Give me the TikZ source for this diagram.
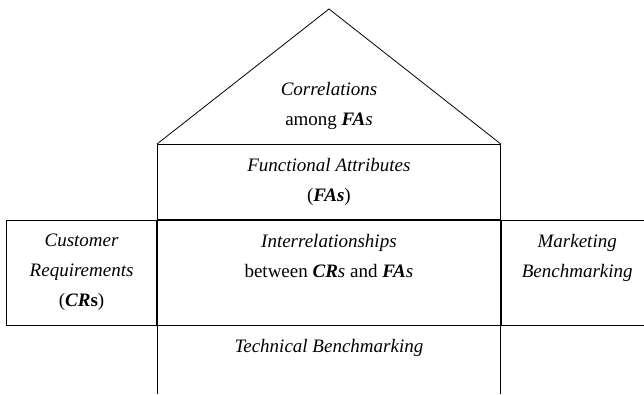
\documentclass[tikz,border=0pt]{standalone}
\usepackage{fontspec}
\setmainfont{Liberation Serif}
\usetikzlibrary{positioning}

\newcommand{\bfit}[1]{\textbf{\textit{#1}}}

\begin{document}
\begin{tikzpicture}[
        x=1pt, y=-1pt,
        box/.style={draw, line width=0.8pt, inner sep=0pt, minimum height=105pt},
        txt/.style={font=\fontsize{19}{30}\selectfont, align=center, inner sep=0pt}
      ]
        \clip (0,0) rectangle (644,394);

        % Functional attributes and the matrix row
        \node[box, minimum width=343pt, minimum height=75pt, anchor=north west] (fa) at (157,144) {};
        \node[box, minimum width=343pt, below=0pt of fa] (inter) {};
        \node[box, minimum width=150pt, left=0pt of inter] (cr) {};
        \node[box, minimum width=152pt, right=0pt of inter] (mb) {};

        % Roof
        \coordinate (apex) at (329,9);
        \draw[line width=0.8pt, line join=miter] (fa.north west) -- (apex) -- (fa.north east);

        % Walls down to the ground
        \coordinate (ground) at (0,394);
        \draw[line width=0.8pt] (inter.south west) -- (inter.south west |- ground);
        \draw[line width=0.8pt] (inter.south east) -- (inter.south east |- ground);
        \draw[line width=1.2pt] (inter.north west) -- (inter.north east);
        \draw[line width=1.6pt] (inter.south west) -- (inter.south east);

        % Labels
        \node[txt] (corr) at (329,106) {\textit{Correlations}\\among \bfit{FA}\textit{s}};
        \node[txt] (fatext) at (fa.center) {\textit{Functional Attributes}\\(\bfit{FAs})};
        \node[txt] (crtext) at (cr.center) {\textit{Customer}\\\textit{Requirements}\\(\textbf{\textit{CR}s})};
        \node[txt, below=14pt of inter.north] (intertext) {\textit{Interrelationships}\\between \bfit{CR}\textit{s} and \bfit{FA}\textit{s}};
        \node[txt, below=14pt of mb.north] (mbtext) {\textit{Marketing}\\\textit{Benchmarking}};
        \node[txt, below=14pt of inter.south] (tbtext) {\textit{Technical Benchmarking}};

      \end{tikzpicture}
\end{document}
